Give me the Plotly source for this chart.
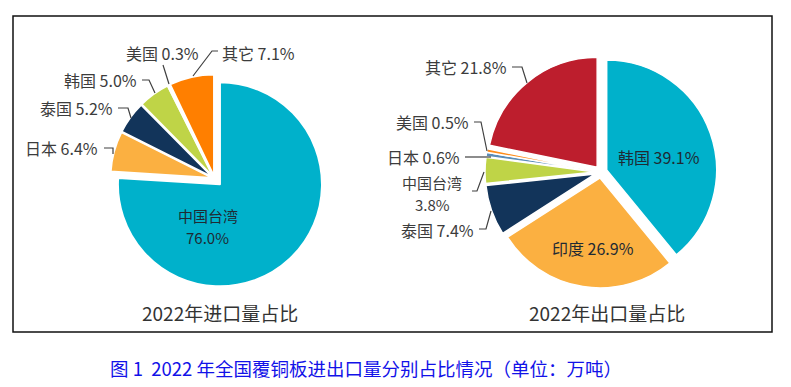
import plotly.graph_objects as go

W, H = 791, 387

# ---------------- data ----------------
imp_labels = ['中国台湾', '日本', '泰国', '韩国', '美国', '其它']
imp_values = [76.0, 6.4, 5.2, 5.0, 0.3, 7.1]
imp_colors = ['#00B1CB', '#FBB041', '#12345A', '#BFD447', '#E0E0E0', '#FF7F00']
imp_pull = [0.078, 0.02, 0.02, 0.02, 0.02, 0.02]

exp_labels = ['韩国', '印度', '泰国', '中国台湾', '日本', '美国', '其它']
exp_values = [39.1, 26.9, 7.4, 3.8, 0.6, 0.5, 21.8]
exp_colors = ['#00B1CB', '#FBB041', '#12345A', '#BFD447', '#5B8DB8', '#FF8C1A', '#BD1E2D']
exp_pull = [0.055] * 7

imp_title = '2022年进口量占比'
exp_title = '2022年出口量占比'
fig_caption = '图 1\u00a0 2022 年全国覆铜板进出口量分别占比情况（单位：万吨）'

# ---------------- layout helpers (pixel -> paper) ----------------
def px(x):
    return x / W


def py(y):
    return 1 - y / H


FONT = 'Noto Sans CJK SC, Microsoft YaHei, sans-serif'
LABEL_COLOR = '#3C3C3C'

fig = go.Figure()

fig.add_trace(go.Pie(
    labels=imp_labels, values=imp_values, sort=False, direction='clockwise',
    rotation=0, pull=imp_pull, textinfo='none', hoverinfo='label+percent',
    marker=dict(colors=imp_colors, line=dict(color='white', width=2)),
    domain=dict(x=[px(104.5), px(324.5)], y=[py(288.5), py(68.5)]),
    showlegend=False,
))

fig.add_trace(go.Pie(
    labels=exp_labels, values=exp_values, sort=False, direction='clockwise',
    rotation=0, pull=exp_pull, textinfo='none', hoverinfo='label+percent',
    marker=dict(colors=exp_colors, line=dict(color='white', width=1.5)),
    domain=dict(x=[px(485), px(717)], y=[py(288), py(56)]),
    showlegend=False,
))

# label placement (pixel positions of text anchors); two-line labels get (y1, y2)
imp_label_pos = {
    '中国台湾': (208, (215, 237), 'center'),
    '日本': (99, 148, 'right'),
    '泰国': (114, 108, 'right'),
    '韩国': (138, 80, 'right'),
    '美国': (200, 53, 'right'),
    '其它': (221, 53, 'left'),
}
exp_label_pos = {
    '韩国': (659, 157, 'center'),
    '印度': (593, 248, 'center'),
    '泰国': (475, 230, 'right'),
    '中国台湾': (432, (182, 204), 'center'),
    '日本': (461, 157, 'right'),
    '美国': (470, 122, 'right'),
    '其它': (508, 67, 'right'),
}

imp_leaders = {
    '日本': [(104, 148), (113, 148), (113, 154)],
    '泰国': [(118, 108), (128, 108), (131, 118)],
    '韩国': [(142, 80), (149, 80), (155, 93)],
    '美国': [(163, 65), (169, 84)],
    '其它': [(218, 51), (212, 51), (193, 76)],
}
exp_leaders = {
    '其它': [(512, 67), (522, 67), (527, 83)],
    '美国': [(474, 122), (481, 122), (487, 151)],
    '日本': [(465, 157), (491, 157)],
    '中国台湾': [(472, 191), (477, 191), (484, 172)],
    '泰国': [(479, 229), (486, 229), (491, 211)],
}

annotations = []
shapes = []


def text_ann(x, y, text, anchor, color, size=16):
    annotations.append(dict(
        x=px(x), y=py(y), xref='paper', yref='paper', text=text,
        showarrow=False, xanchor=anchor, yanchor='middle', align='center',
        borderpad=0, font=dict(family=FONT, size=size, color=color),
    ))


def add_labels(labels, values, pos, leaders, inside_set):
    for lab, val in zip(labels, values):
        if lab not in pos:
            continue
        x, y, anchor = pos[lab]
        color = '#1F2A33' if lab in inside_set else LABEL_COLOR
        if isinstance(y, tuple):
            text_ann(x, y[0], lab, anchor, color, size=15)
            text_ann(x, y[1], f'{val:.1f}%', anchor, color, size=15)
        else:
            text_ann(x, y, f'{lab} {val:.1f}%', anchor, color)
        if lab in leaders:
            pts = leaders[lab]
            path = 'M ' + ' L '.join(f'{px(a):.5f},{py(b):.5f}' for a, b in pts)
            shapes.append(dict(type='path', path=path, xref='paper', yref='paper',
                               line=dict(color='#404040', width=1.2)))


add_labels(imp_labels, imp_values, imp_label_pos, imp_leaders, {'中国台湾'})
add_labels(exp_labels, exp_values, exp_label_pos, exp_leaders, {'韩国', '印度'})

# pie titles
text_ann(220, 312, imp_title, 'center', '#333333', size=19)
text_ann(607, 312, exp_title, 'center', '#333333', size=19)
# figure caption
text_ann(366, 368, fig_caption, 'center', '#1212E8', size=18.5)

# frame
shapes.append(dict(type='rect', xref='paper', yref='paper',
                   x0=px(13), x1=px(772), y0=py(332), y1=py(16),
                   line=dict(color='#111111', width=1.5)))

fig.update_layout(
    width=W, height=H,
    margin=dict(l=0, r=0, t=0, b=0),
    paper_bgcolor='white', plot_bgcolor='white',
    showlegend=False,
    annotations=annotations,
    shapes=shapes,
)

fig.write_html('out.html',
               config={'displayModeBar': False},
               post_script="document.body.style.margin='0';document.body.style.padding='0';")
